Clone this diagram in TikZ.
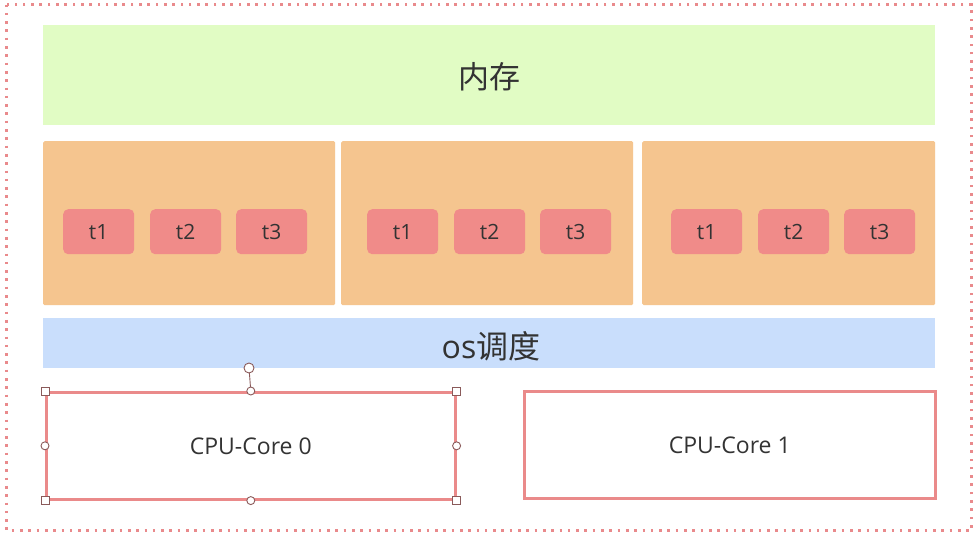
\documentclass[tikz,border=0pt]{standalone}
\usepackage{fontspec}
\setmainfont{Noto Sans CJK SC}
\newfontfamily\latinf{Open Sans}
\begin{document}
\begin{tikzpicture}[x=1pt,y=-1pt,
  box/.style={rectangle,inner sep=0pt,anchor=north west},
  mem/.style={box,fill=memgreen},
  proc/.style={box,fill=procorange,rounded corners=1.5pt},
  sched/.style={box,fill=schedblue},
  thr/.style={box,fill=thrred,rounded corners=5pt,minimum width=71pt,minimum height=45pt,text=txt,font=\latinf\fontsize{21}{24}\selectfont},
  core/.style={box,draw=corered,line width=2.6pt,fill=white,minimum height=107pt,text=txt,font=\latinf\fontsize{23}{26}\selectfont},
  handle/.style={draw=handlegray,fill=white,line width=0.9pt,inner sep=0pt},
]
\definecolor{memgreen}{HTML}{E1FCC4}
\definecolor{procorange}{HTML}{F5C58F}
\definecolor{schedblue}{HTML}{C9DEFC}
\definecolor{thrred}{HTML}{F08B89}
\definecolor{corered}{HTML}{EA8A8A}
\definecolor{dotred}{HTML}{E98A8C}
\definecolor{txt}{HTML}{333333}
\definecolor{handlegray}{HTML}{8A5A5A}
\useasboundingbox (0,0) rectangle (980,544);
\fill[white] (0,0) rectangle (980,544);
% outer dotted frame
\coordinate (f1) at (6.5,4.5);
\coordinate (f2) at (971.5,530.5);
\draw[dotred,line width=2.6pt,dash pattern=on 2.6pt off 5.7pt] (f1) rectangle (f2);
% memory
\node[mem,minimum width=892pt,minimum height=100pt] (mem) at (43,25) {};
\node[text=txt,font=\fontsize{31}{34}\selectfont] at (489,77) {内存};
% processes
\node[proc,minimum width=292pt,minimum height=164pt] (p1) at (43,141) {};
\node[proc,minimum width=292pt,minimum height=164pt] (p2) at (341,141) {};
\node[proc,minimum width=293pt,minimum height=164pt] (p3) at (642,141) {};
\foreach \p/\x in {a/63,b/367,c/671}{
  \node[thr] (\p1) at (\x,209) {t1};
  \node[thr] (\p2) at ({\x+87},209) {t2};
  \node[thr] (\p3) at ({\x+173},209) {t3};
}
% scheduler
\node[sched,minimum width=892pt,minimum height=50pt] (os) at (43,318) {};
\node[text=txt,font=\fontsize{32}{35}\selectfont] at (491,346) {{\latinf os}调度};
% cores
\node[core,minimum width=409pt] (c0) at (45,391) {CPU-Core 0};
\node[core,minimum width=411pt] (c1) at (523,390) {CPU-Core 1};
% selection handles on core 0
\coordinate (rot) at (249,368);
\draw[handlegray,line width=0.9pt] (rot) -- (c0.north);
\foreach \a in {north west,north east,south west,south east}{
  \node[handle,rectangle,minimum size=8pt] at (c0.\a) {};
}
\foreach \a in {north,south,east,west}{
  \node[handle,circle,minimum size=8pt] at (c0.\a) {};
}
\node[handle,circle,minimum size=10pt] at (rot) {};
\end{tikzpicture}
\end{document}
